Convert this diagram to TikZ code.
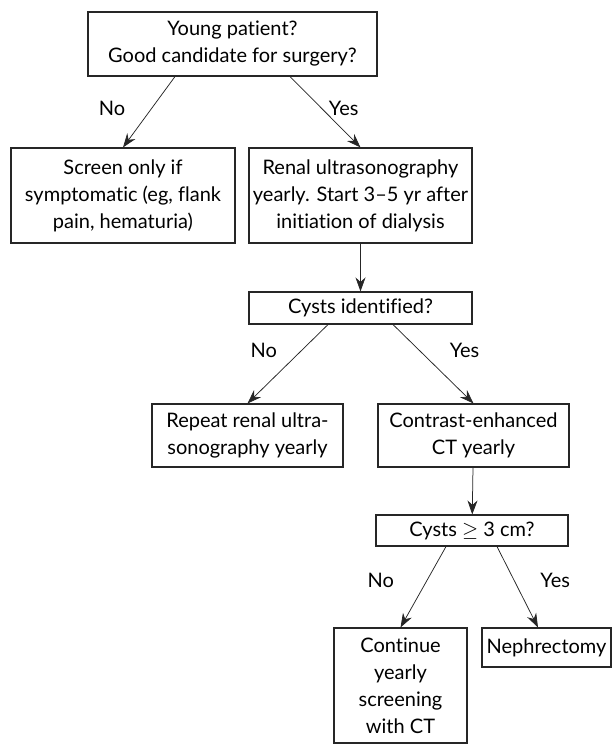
\documentclass[tikz,border=0pt]{standalone}
\usepackage{fontspec}
\setmainfont[Ligatures=NoCommon]{Lato}
\usetikzlibrary{arrows.meta}

\begin{document}
\begin{tikzpicture}[>={Stealth[length=14pt,width=10pt,inset=4.5pt]}, font=\fontsize{20}{27}\selectfont]
        	\tikzstyle{box} = [draw=black!85, line width=1.1pt, inner sep=0pt, align=center];
        	\tikzstyle{link} = [draw=black!85, line width=0.75pt];
        	\useasboundingbox (-232.5pt,44pt) rectangle (378.5pt,-700pt);

        	\node[box, minimum width=289pt, minimum height=64pt] (young) at (0,0) {Young patient?\\Good candidate for surgery?};
            \node[box, below of=young, xshift=-109.5pt, yshift=-123.05pt, minimum width=224pt, minimum height=95pt] (screen) {Screen only if\\symptomatic (eg, flank\\pain, hematuria)};
        	\node[box, right of=screen, xshift=209.05pt, minimum width=223pt, minimum height=95pt] (renal) {Renal ultrasonography\\yearly. Start 3--5 yr after\\initiation of dialysis};
        	\node[box, below of=renal, yshift=-84.05pt, minimum width=223pt, minimum height=32pt] (cysts) {Cysts identified?};
        	\node[box, below of=cysts, xshift=113pt, yshift=-99.05pt, minimum width=191pt, minimum height=63pt] (ct) {Contrast-enhanced\\CT yearly};
        	\node[box, left of=ct, xshift=-197.55pt, minimum width=191pt, minimum height=63pt] (repeat) {Repeat renal ultra-\\sonography yearly};
        	\node[box, below of=ct, xshift=-1.5pt, yshift=-66.55pt, minimum width=192pt, minimum height=31pt] (size) {Cysts $\geq$ 3 cm?};
        	\node[box, below of=size, xshift=-71.5pt, yshift=-126.55pt, minimum width=133pt, minimum height=115pt] (continue) {Continue\\yearly\\screening\\with CT};
        	\node[box, right of=continue, xshift=117.55pt, yshift=38pt, minimum width=129pt, minimum height=39pt] (nephro) {Nephrectomy};

            \draw[link, ->] ([xshift=-57.5pt]young.south) -- node[pos=.45, xshift=-39.5pt] (no1) {No} (screen.north);
            \draw[link, ->] ([xshift=57.5pt]young.south) -- node[pos=.45, xshift=22pt] (yes1) {Yes} (renal.north);
            \draw[link, ->] (renal) -- (cysts);
            \draw[link, ->] ([xshift=-32.5pt]cysts.south) -- node[pos=.33, xshift=-37.7pt] (no2) {No} (repeat.north);
            \draw[link, ->] ([xshift=32.5pt]cysts.south) -- node[pos=.33, xshift=45pt] (yes2) {Yes} (ct.north);
            \draw[link, ->] (ct) -- (size);
            \draw[link, ->] ([xshift=-26pt]size.south) -- node[pos=.42, xshift=-46pt] (no3) {No} (continue.north);
            \draw[link, ->] ([xshift=25pt]size.south) -- node[pos=.42, xshift=41pt] (yes3) {Yes} ([xshift=-8.5pt]nephro.north);
    	\end{tikzpicture}
\end{document}
